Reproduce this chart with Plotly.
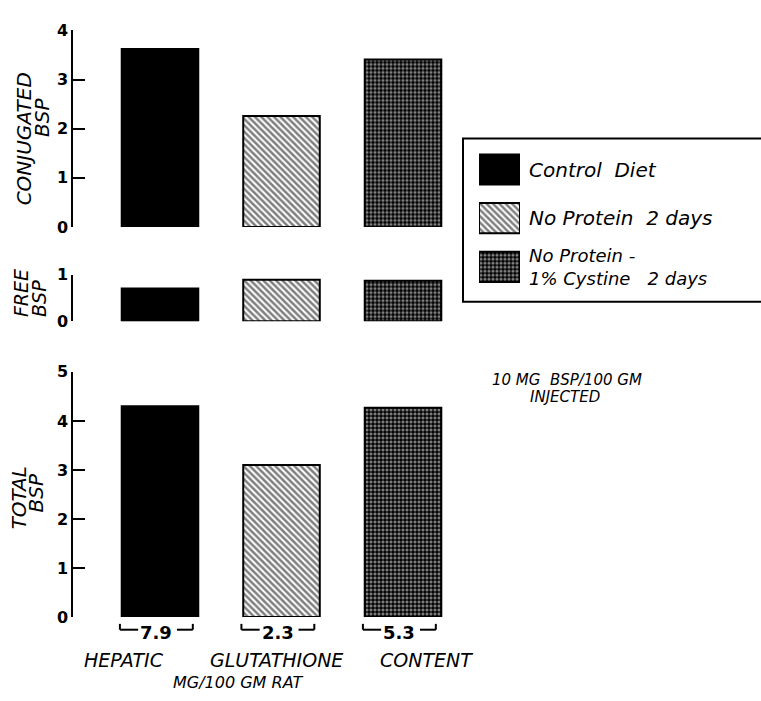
import plotly.graph_objects as go

# ---------------- data ----------------
series_names = ["Control  Diet", "No Protein  2 days", "No Protein -<br>1% Cystine   2 days"]
conjugated_bsp = [3.62, 2.26, 3.41]
free_bsp = [0.70, 0.89, 0.87]
total_bsp = [4.30, 3.10, 4.27]
glutathione = ["7.9", "2.3", "5.3"]
conj_ticks = [0, 1, 2, 3, 4]
free_ticks = [0, 1]
total_ticks = [0, 1, 2, 3, 4, 5]

W, H = 761, 701
def px(x):
    return x / W
def py(y):
    return 1 - y / H

styles = [
    dict(color="black", pattern=dict(shape="")),
    dict(color="white", pattern=dict(shape="\\", fgcolor="black", bgcolor="white", size=4.5, solidity=0.55)),
    dict(color="black", pattern=dict(shape=".", fgcolor="white", bgcolor="black", size=4, solidity=0.5)),
]

fig = go.Figure()
xs = [0, 1, 2]
panels = [("y", conjugated_bsp), ("y2", free_bsp), ("y3", total_bsp)]
for yax, vals in panels:
    for i in range(3):
        st = styles[i]
        fig.add_trace(go.Bar(
            x=[xs[i]], y=[vals[i]], xaxis="x", yaxis=yax, width=0.63,
            marker=dict(color=st["color"], pattern=st["pattern"], line=dict(color="black", width=2)),
            showlegend=False, hoverinfo="skip"))

# legend swatches
for i in range(3):
    st = styles[i]
    fig.add_trace(go.Bar(
        x=[1], y=[i], orientation="h", xaxis="x2", yaxis="y4", width=0.62,
        marker=dict(color=st["color"], pattern=st["pattern"], line=dict(color="black", width=2)),
        showlegend=False, hoverinfo="skip"))

tickfont = dict(family="DejaVu Sans", size=16, color="black", weight="bold")
yax_common = dict(showline=True, linecolor="black", linewidth=1.5, ticks="inside", ticklen=12,
                  tickwidth=1.5, tickcolor="black", showgrid=False, zeroline=False,
                  tickfont=tickfont, anchor="x", fixedrange=True)

fig.update_layout(
    width=W, height=H, margin=dict(l=0, r=0, t=0, b=0),
    paper_bgcolor="white", plot_bgcolor="rgba(0,0,0,0)",
    barmode="overlay",
    xaxis=dict(domain=[px(73), px(460)], range=[-0.716, 2.469], visible=False, fixedrange=True),
    yaxis=dict(domain=[py(224), py(22)], range=[0, 4], tickvals=conj_ticks, **yax_common),
    yaxis2=dict(domain=[py(321), py(273)], range=[0, 1], tickvals=free_ticks, **yax_common),
    yaxis3=dict(domain=[py(625), py(373)], range=[0, 5], tickvals=total_ticks, **yax_common),
    xaxis2=dict(domain=[px(479), px(520)], range=[0, 1], visible=False, anchor="y4", fixedrange=True),
    yaxis4=dict(domain=[py(290), py(140)], range=[2.5, -0.5], visible=False, anchor="x2", fixedrange=True),
)

ann = []
def add_text(text, x, y, size=17, angle=0, xanchor="center", weight="normal", style="italic"):
    ann.append(dict(text=text, x=px(x), y=py(y), xref="paper", yref="paper", showarrow=False,
                    textangle=angle, xanchor=xanchor, yanchor="middle",
                    font=dict(family="DejaVu Sans", size=size, color="black", style=style, weight=weight)))

# axis titles
add_text("CONJUGATED", 24, 134, size=20, angle=-90)
add_text("BSP", 42, 112, size=20, angle=-90)
add_text("FREE", 21, 292, size=19, angle=-90)
add_text("BSP", 39, 298, size=19, angle=-90)
add_text("TOTAL", 19, 503, size=20, angle=-90)
add_text("BSP", 36, 498, size=20, angle=-90)

# bottom labels
add_text("HEPATIC", 124, 669, size=19)
add_text("GLUTATHIONE", 276, 669, size=19)
add_text("CONTENT", 426, 669, size=19)
add_text("MG/100 GM RAT", 238, 692, size=16)

# injected note
add_text("10 MG  BSP/100 GM", 567, 381, size=15)
add_text("INJECTED", 565, 399, size=15)

# legend labels
add_text(series_names[0], 527, 165, size=20, xanchor="left")
add_text(series_names[1], 527, 215, size=20, xanchor="left")
ann.append(dict(text=series_names[2], x=px(527), y=py(265), xref="paper", yref="paper",
                showarrow=False, xanchor="left", yanchor="middle", align="left",
                font=dict(family="DejaVu Sans", size=18, color="black", style="italic")))

shapes = []
# brackets + glutathione numbers
for i, g in enumerate(glutathione):
    c = xs[i]
    l, r = c - 0.33, c + 0.27
    for pts in [((l, py(632)), (l, py(638))), ((l, py(638)), (l + 0.15, py(638))),
                ((r, py(632)), (r, py(638))), ((r, py(638)), (r - 0.13, py(638)))]:
        shapes.append(dict(type="line", xref="x", yref="paper", x0=pts[0][0], y0=pts[0][1],
                           x1=pts[1][0], y1=pts[1][1], line=dict(color="black", width=2)))
    ann.append(dict(text=g, x=c - 0.03, y=py(641), xref="x", yref="paper", showarrow=False,
                    xanchor="center", yanchor="middle",
                    font=dict(family="DejaVu Sans", size=18, color="black", weight="bold")))

# legend box
shapes.append(dict(type="rect", xref="paper", yref="paper", x0=px(463), x1=1.02, y0=py(301), y1=py(133),
                   line=dict(color="black", width=2)))

fig.update_layout(annotations=ann, shapes=shapes)
fig.write_html("out.html", config={"displayModeBar": False},
               post_script="document.body.style.margin='0';document.body.style.overflow='hidden';")
